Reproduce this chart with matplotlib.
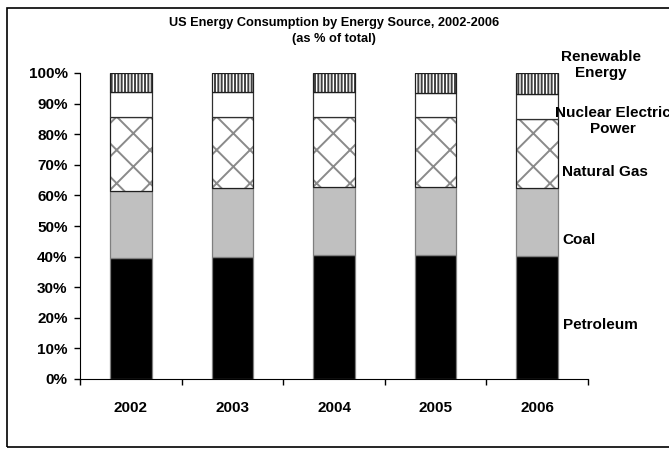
import matplotlib.pyplot as plt
from matplotlib.patches import Rectangle
import numpy as np

plt.rcParams['font.family'] = ['Liberation Sans', 'DejaVu Sans']
plt.rcParams['font.weight'] = 'bold'
plt.rcParams['hatch.linewidth'] = 1.4

# shares of total consumption, in %
years = ['2002', '2003', '2004', '2005', '2006']
petroleum = [39.4, 39.8, 40.5, 40.5, 40.2]
coal = [22.0, 22.5, 22.1, 22.3, 22.3]
natural_gas = [24.1, 23.2, 22.9, 22.7, 22.4]
nuclear = [8.2, 8.2, 8.2, 8.0, 8.1]
renewable = [6.3, 6.3, 6.3, 6.5, 7.0]

series = [
    ('Petroleum', petroleum, 'black', '#7f7f7f', None),
    ('Coal', coal, '#c0c0c0', '#7f7f7f', None),
    ('Natural Gas', natural_gas, 'white', '#8a8a8a', 'x'),
    ('Nuclear Electric\nPower', nuclear, 'white', '#7f7f7f', None),
    ('Renewable\nEnergy', renewable, 'white', '#404040', '|||||'),
]

fig = plt.figure(figsize=(6.69, 4.49), dpi=100)
ax = fig.add_axes([80/669, 70/449, 508/669, 306/449])

# chart frame
fig.patches.append(Rectangle((7/669, 2/449), 1.0, 439/449, transform=fig.transFigure,
                             fill=False, edgecolor='black', linewidth=1.2))

x = np.arange(len(years))
bottom = np.zeros(len(years))
width = 0.41
for name, vals, fc, ec, hatch in series:
    v = np.array(vals) / 100
    if hatch:
        ax.bar(x, v, width, bottom=bottom, color=fc, edgecolor=ec, hatch=hatch, linewidth=0)
        ax.bar(x, v, width, bottom=bottom, fill=False, edgecolor='#202020', linewidth=0.9)
    else:
        ax.bar(x, v, width, bottom=bottom, color=fc, edgecolor='#303030' if fc == 'white' else ec,
               linewidth=0.9)
    bottom += v

ax.set_xlim(-0.5, len(years) - 0.5)
ax.set_ylim(0, 1)
ticks = np.arange(0, 1.01, 0.1)
ax.set_yticks(ticks)
ax.set_yticklabels([f'{int(round(t*100))}%' for t in ticks], fontsize=11)
ax.set_xticks(x)
ax.set_xticklabels(years, fontsize=11)
ax.set_xticks(np.arange(-0.5, len(years)), minor=True)
ax.tick_params(axis='x', which='major', length=0, pad=16)
ax.tick_params(axis='x', which='minor', length=4, width=1)
ax.tick_params(axis='y', length=4, width=1, pad=5)
ax.spines['top'].set_visible(False)
ax.spines['right'].set_visible(False)

fig.text(334/669, 1 - 31/449, 'US Energy Consumption by Energy Source, 2002-2006\n(as % of total)',
         ha='center', va='center', fontsize=9.2, fontweight='bold', linespacing=1.35)

# series labels on the right
label_pos = [
    ('Petroleum', 600, 325),
    ('Coal', 579, 240),
    ('Natural Gas', 605, 172),
    ('Nuclear Electric\nPower', 613, 121),
    ('Renewable\nEnergy', 601, 65),
]
for text, px, py in label_pos:
    fig.text(px/669, 1 - py/449, text, ha='center', va='center', fontsize=11,
             fontweight='bold', linespacing=1.15)

fig.savefig('out.png', dpi=100)
